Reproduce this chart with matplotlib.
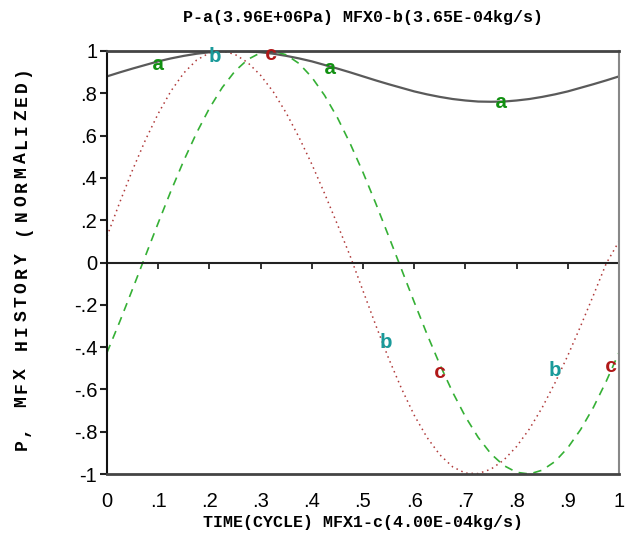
"""
P / MFX history over one cycle (normalized), with a/b/c curve markers.
"""

import numpy as np
import matplotlib
matplotlib.use("Agg")
import matplotlib.pyplot as plt

# time in cycles
time = [0.0, 0.025, 0.05, 0.075, 0.1, 0.125, 0.15, 0.175, 0.2, 0.225,
        0.25, 0.275, 0.3, 0.325, 0.35, 0.375, 0.4, 0.425, 0.45, 0.475,
        0.5, 0.525, 0.55, 0.575, 0.6, 0.625, 0.65, 0.675, 0.7, 0.725,
        0.75, 0.775, 0.8, 0.825, 0.85, 0.875, 0.9, 0.925, 0.95, 0.975, 1.0]

# a: pressure P (normalized)
p_a = [0.880, 0.899, 0.917, 0.934, 0.951, 0.965, 0.977, 0.987, 0.994, 0.999,
       1.000, 0.999, 0.994, 0.987, 0.977, 0.965, 0.951, 0.934, 0.917, 0.899,
       0.880, 0.861, 0.843, 0.826, 0.809, 0.795, 0.783, 0.773, 0.766, 0.761,
       0.760, 0.761, 0.766, 0.773, 0.783, 0.795, 0.809, 0.826, 0.843, 0.861, 0.880]

# b: MFX0 (normalized)
mfx0_b = [0.124, 0.285, 0.438, 0.579, 0.704, 0.811, 0.896, 0.957, 0.991, 1.000,
          0.984, 0.945, 0.885, 0.806, 0.707, 0.592, 0.465, 0.326, 0.180, 0.030,
          -0.134, -0.297, -0.453, -0.595, -0.722, -0.827, -0.909, -0.966, -0.996, -0.998,
          -0.977, -0.934, -0.870, -0.787, -0.686, -0.569, -0.440, -0.301, -0.155, -0.005, 0.100]

# c: MFX1 (normalized)
mfx1_c = [-0.426, -0.279, -0.125, 0.031, 0.187, 0.339, 0.482, 0.613, 0.729, 0.827,
          0.905, 0.960, 0.992, 1.000, 0.982, 0.941, 0.876, 0.790, 0.685, 0.562,
          0.426, 0.279, 0.125, -0.031, -0.187, -0.339, -0.482, -0.613, -0.729, -0.827,
          -0.905, -0.960, -0.992, -1.000, -0.982, -0.941, -0.876, -0.790, -0.685, -0.562, -0.426]

# curve marker letters (t, value)
marks_a = [(0.10, 0.935), (0.435, 0.915), (0.77, 0.755)]
marks_b = [(0.21, 0.975), (0.545, -0.38), (0.875, -0.51)]
marks_c = [(0.32, 0.985), (0.65, -0.52), (0.985, -0.49)]

x_ticks = [0, 0.1, 0.2, 0.3, 0.4, 0.5, 0.6, 0.7, 0.8, 0.9, 1.0]
x_ticklabels = ["0", ".1", ".2", ".3", ".4", ".5", ".6", ".7", ".8", ".9", "1"]
y_ticks = [-1, -0.8, -0.6, -0.4, -0.2, 0, 0.2, 0.4, 0.6, 0.8, 1]
y_ticklabels = ["-1", "-.8", "-.6", "-.4", "-.2", "0", ".2", ".4", ".6", ".8", "1"]

title = "P-a(3.96E+06Pa) MFX0-b(3.65E-04kg/s)"
xlabel = "TIME(CYCLE) MFX1-c(4.00E-04kg/s)"
ylabel = "P, MFX HISTORY (NORMALIZED)"

mono = ["Liberation Mono", "DejaVu Sans Mono"]
tickfont = ["Liberation Sans", "DejaVu Sans"]

fig = plt.figure(figsize=(6.27, 5.37), dpi=100)
ax = fig.add_axes([107 / 627, 63 / 537, 512 / 627, 423 / 537])

ax.plot(time, p_a, color="#5a5a5a", lw=1.6, solid_capstyle="butt")
ax.plot(time, mfx0_b, color="#b03a3a", lw=1.1, linestyle=(0, (1, 2.5)))
ax.plot(time, mfx1_c, color="#35b035", lw=1.2, linestyle=(0, (5, 4)))

for t, v in marks_a:
    ax.text(t, v, "a", color="#119011", fontsize=15, fontweight="bold",
            family=mono, ha="center", va="center")
for t, v in marks_b:
    ax.text(t, v, "b", color="#1a9a9a", fontsize=15, fontweight="bold",
            family=mono, ha="center", va="center")
for t, v in marks_c:
    ax.text(t, v, "c", color="#b01818", fontsize=15, fontweight="bold",
            family=mono, ha="center", va="center")

# zero line with downward x tick marks
ax.axhline(0, color="#222222", lw=1.5)
ax.vlines(x_ticks[1:-1], -0.03, 0, color="#222222", lw=1.3)

ax.set_xlim(0, 1)
ax.set_ylim(-1, 1)
ax.set_xticks(x_ticks)
ax.set_xticklabels(x_ticklabels, family=tickfont, fontsize=14.5)
ax.set_yticks(y_ticks)
ax.set_yticklabels(y_ticklabels, family=tickfont, fontsize=14.5)
ax.tick_params(axis="x", length=0, pad=13)
ax.tick_params(axis="y", direction="out", length=5, width=1.5, pad=2, color="#222222")

ax.spines["left"].set_color("#111111")
ax.spines["left"].set_linewidth(1.5)
ax.spines["top"].set_color("#444444")
ax.spines["top"].set_linewidth(2)
ax.spines["bottom"].set_color("#444444")
ax.spines["bottom"].set_linewidth(2)
ax.spines["right"].set_color("#888888")
ax.spines["right"].set_linewidth(1.5)

ax.set_title(title, family=mono, fontsize=12, fontweight="bold", pad=21)
ax.set_xlabel(xlabel, family=mono, fontsize=12, fontweight="bold", labelpad=3)

# vertical, letter-spaced y label
y0, pitch = 445, 14.35
for i, ch in enumerate(ylabel):
    fig.text(22 / 627, 1 - (y0 - i * pitch) / 537, ch, rotation=90,
             family=mono, fontsize=13, fontweight="bold",
             ha="center", va="center")

fig.savefig("out.png", dpi=100)
plt.close(fig)
